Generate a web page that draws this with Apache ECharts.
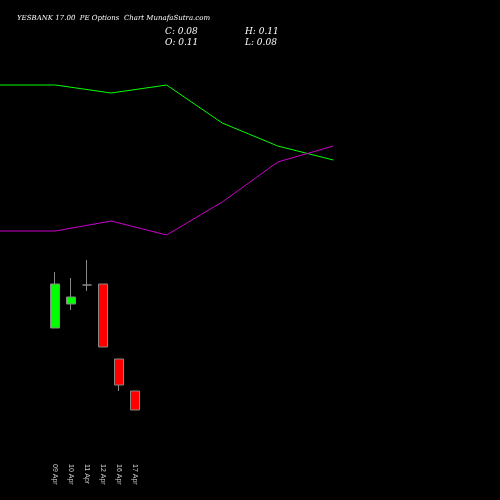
<!DOCTYPE html>
<html><head><meta charset="utf-8">
<script src="https://cdn.jsdelivr.net/npm/echarts@6/dist/echarts.min.js"></script>
<style>html,body{margin:0;background:#000}#c{width:500px;height:500px}</style></head>
<body><div id="c"></div>
<script>
const dates = ["09 Apr","10 Apr","11 Apr","12 Apr","16 Apr","17 Apr"];
// [open, close, low, high]
const candles = [
  [0.244,0.332,0.244,0.356],
  [0.292,0.306,0.280,0.344],
  [0.330,0.330,0.318,0.380],
  [0.332,0.206,0.206,0.332],
  [0.182,0.130,0.118,0.182],
  [0.118,0.080,0.080,0.118]
];
const lineX = [0,1,2,3,4,5,6];
const greenLine = [415,415,407,415,377,354,340];
const magentaLine = [269,269,279,265,298,338,354];

const chart = echarts.init(document.getElementById('c'));
chart.setOption({
  backgroundColor:'#000',
  animation:false,
  title:[
    {text:'YESBANK 17.00  PE Options  Chart MunafaSutra.com',left:12,top:10,textStyle:{color:'#fff',fontSize:7,fontStyle:'italic',fontFamily:'DejaVu Serif',fontWeight:'normal'}},
    {text:'C: 0.08\nO: 0.11',left:160,top:21,textStyle:{color:'#fff',fontSize:9,fontStyle:'italic',fontFamily:'DejaVu Serif',fontWeight:'normal',lineHeight:11}},
    {text:'H: 0.11\nL: 0.08',left:240,top:21,textStyle:{color:'#fff',fontSize:9,fontStyle:'italic',fontFamily:'DejaVu Serif',fontWeight:'normal',lineHeight:11}}
  ],
  grid:[
    {left:47,width:96,top:0,bottom:40},
    {left:0,right:0,top:0,bottom:0}
  ],
  xAxis:[
    {type:'category',gridIndex:0,data:dates,axisLine:{show:false},axisTick:{show:false},
     axisLabel:{color:'#ccc',fontSize:7,rotate:-90,margin:4,interval:0}},
    {type:'value',gridIndex:1,min:0,max:9,show:false}
  ],
  yAxis:[
    {type:'value',gridIndex:0,min:-0.02,max:0.9,show:false},
    {type:'value',gridIndex:1,min:0,max:500,show:false}
  ],
  series:[
    {type:'line',xAxisIndex:1,yAxisIndex:1,data:lineX.map((x,i)=>[x,greenLine[i]]),symbol:'none',lineStyle:{color:'#00ff00',width:1}},
    {type:'line',xAxisIndex:1,yAxisIndex:1,data:lineX.map((x,i)=>[x,magentaLine[i]]),symbol:'none',lineStyle:{color:'#cc00cc',width:1}},
    {type:'candlestick',xAxisIndex:0,yAxisIndex:0,data:candles,barWidth:9,
     itemStyle:{color:'#00ff00',color0:'#ff0000',borderColor:'#888',borderColor0:'#888',borderWidth:1}}
  ]
});
</script></body></html>
